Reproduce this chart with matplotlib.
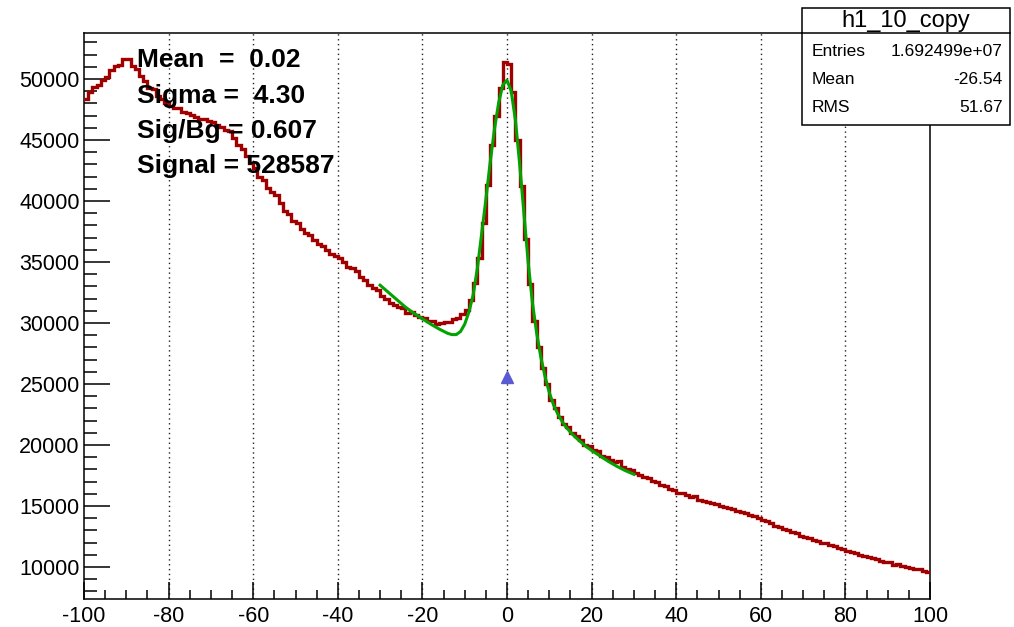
import matplotlib
matplotlib.use("Agg")
import matplotlib.pyplot as plt
import matplotlib.patches as patches
from matplotlib.ticker import MultipleLocator
import numpy as np

plt.rcParams['font.family'] = ['Liberation Sans', 'DejaVu Sans']
plt.rcParams['axes.unicode_minus'] = False

# -------------- histogram h1_10_copy: 200 bins from -100 to 100 --------------
x_lo, x_hi, n_bins = -100, 100, 200
counts = [
    48400, 48900, 49350, 49500, 49900, 50150, 50700, 51050, 51150, 51600,
    51650, 51100, 50800, 50250, 49800, 49300, 49200, 48600, 48400, 48050,
    47800, 47600, 47650, 47300, 47200, 47050, 46900, 46750, 46700, 46550,
    46500, 46200, 46100, 45800, 45700, 45200, 44600, 44300, 43700, 43100,
    42700, 42000, 41700, 41100, 40700, 40500, 39800, 39200, 38900, 38400,
    38200, 37700, 37400, 37250, 36800, 36500, 36300, 36000, 35650, 35500,
    35300, 35000, 34600, 34550, 34250, 33800, 33500, 33100, 32900, 32700,
    32200, 32000, 31600, 31500, 31300, 31200, 30850, 30900, 30650, 30500,
    30450, 30150, 30200, 29950, 30000, 30100, 30050, 30300, 30450, 30700,
    31100, 31900, 33300, 35300, 38200, 41300, 44600, 47000, 49300, 51400,
    51200, 48900, 45000, 41200, 36900, 33200, 30200, 28000, 26300, 25000,
    23700, 23000, 22300, 21700, 21500, 21000, 20700, 20450, 20000, 19950,
    19600, 19500, 19100, 19000, 18800, 18600, 18650, 18200, 18050, 17950,
    17700, 17550, 17400, 17300, 17050, 17000, 16700, 16650, 16400, 16300,
    16100, 16050, 15900, 15750, 15800, 15500, 15450, 15300, 15250, 15200,
    15000, 14950, 14800, 14750, 14600, 14500, 14450, 14250, 14200, 14050,
    13850, 13800, 13600, 13400, 13250, 13100, 13050, 12900, 12800, 12550,
    12450, 12400, 12200, 12150, 11950, 11950, 11800, 11700, 11550, 11500,
    11300, 11200, 11150, 10950, 10900, 10850, 10700, 10650, 10500, 10450,
    10400, 10200, 10250, 10100, 10000, 9950, 9850, 9800, 9650, 9600,
]

# -------------- fit function (signal + background), sampled --------------
fit_x = [-30, -28, -26, -24, -22, -20, -18, -16, -14, -13, -12, -11, -10,
         -9, -8, -7, -6, -5, -4, -3, -2, -1, 0, 1, 2, 3, 4, 5, 6, 7, 8,
         9, 10, 11, 12, 13, 14, 15, 16, 17, 18, 19, 20, 22, 24, 26, 28, 30]
fit_y = [33100, 32500, 31900, 31300, 30800, 30350, 29900, 29500, 29150, 29050,
         29050, 29300, 29900, 30900, 32300, 34500, 37300, 40100, 43100, 45800,
         48000, 49500, 49900, 49000, 46600, 43000, 39000, 35000, 31700, 29200,
         27200, 25600, 24300, 23300, 22550, 21950, 21450, 21050, 20700, 20380,
         20080, 19800, 19560, 19100, 18650, 18250, 17900, 17600]

# -------------- marker and fit results --------------
marker_x, marker_y = 0.0, 25600
fit_labels = ["Mean  =  0.02", "Sigma =  4.30", "Sig/Bg = 0.607", "Signal = 528587"]
stat_title = "h1_10_copy"
stat_names = ["Entries", "Mean", "RMS"]
stat_values = ["1.692499e+07", "-26.54", "51.67"]

W, H = 1014, 627
fig = plt.figure(figsize=(W / 100, H / 100), dpi=100)
ax = fig.add_axes([84 / W, 1 - 599 / H, (930 - 84) / W, (599 - 33) / H])

edges = np.linspace(x_lo, x_hi, n_bins + 1)
ax.stairs(counts, edges, baseline=None, color='#a00000', lw=2.4, zorder=3)
ax.plot(fit_x, fit_y, color='#00a300', lw=2.2, zorder=4)
ax.plot(marker_x, marker_y, '^', color='#5a5ad6', markersize=8, zorder=5)

ax.set_xlim(x_lo, x_hi)
ax.set_ylim(7380, 53770)

# -------------- ROOT-like axes --------------
ax.xaxis.set_major_locator(MultipleLocator(20))
ax.xaxis.set_minor_locator(MultipleLocator(5))
ax.yaxis.set_major_locator(MultipleLocator(5000))
ax.yaxis.set_minor_locator(MultipleLocator(1000))
ax.tick_params(axis='x', which='major', direction='in', length=12, width=1.1,
               labelsize=15.5, pad=5, top=False)
ax.tick_params(axis='x', which='minor', direction='in', length=6.5, width=1.1, top=False)
ax.tick_params(axis='y', which='major', direction='in', length=18.5, width=1.1,
               labelsize=15.5, pad=3, right=False)
ax.tick_params(axis='y', which='minor', direction='in', length=9.5, width=1.1, right=False)
for s in ax.spines.values():
    s.set_linewidth(1.1)

for gx in range(-80, 100, 20):
    ax.axvline(gx, color='#222222', lw=1.0, ls=(0, (1, 2.5)), zorder=1)

# -------------- fit results text --------------
for k, txt in enumerate(fit_labels):
    fig.text(137 / W, 1 - (67 + 35.5 * k) / H, txt, fontsize=19, fontweight='bold',
             ha='left', va='baseline', zorder=10)

# -------------- stats box --------------
bx0, bx1, by_top, by_div, by_bot = 802, 1010, 8, 33, 125
box = patches.Rectangle((bx0 / W, 1 - by_bot / H), (bx1 - bx0) / W, (by_bot - by_top) / H,
                        transform=fig.transFigure, fc='white', ec='black', lw=1.1, zorder=20)
fig.add_artist(box)
fig.add_artist(plt.Line2D([bx0 / W, bx1 / W], [1 - by_div / H, 1 - by_div / H],
                          transform=fig.transFigure, color='black', lw=1.1, zorder=21))
fig.text((bx0 + bx1) / 2 / W, 1 - 21 / H, stat_title, fontsize=17,
         ha='center', va='center', zorder=22)
for k, (nm, val) in enumerate(zip(stat_names, stat_values)):
    yy = 1 - (52 + 27.5 * k) / H
    fig.text(812 / W, yy, nm, fontsize=12.5, ha='left', va='center', zorder=22)
    fig.text(1003 / W, yy, val, fontsize=12.5, ha='right', va='center', zorder=22)

fig.savefig("out.png", dpi=100)
